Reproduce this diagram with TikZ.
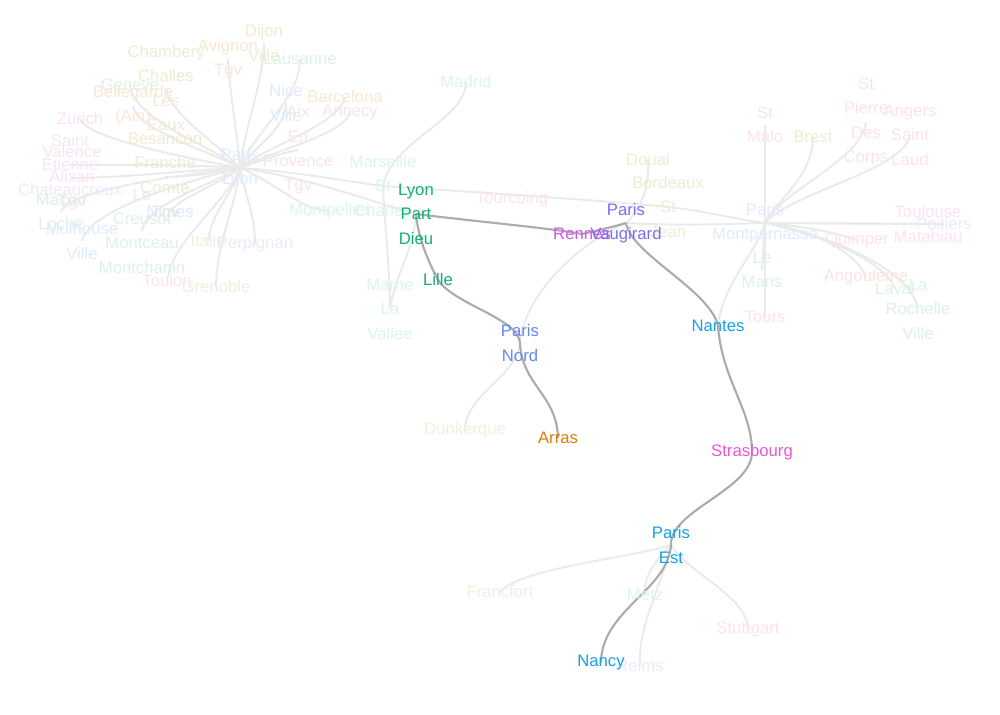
\documentclass[tikz,border=0pt]{standalone}
\usepackage{fontspec}
\setmainfont{Liberation Sans}
\usepackage{xcolor}
\usepackage{tikz}
\usetikzlibrary{backgrounds}
\definecolor{wirec}{HTML}{EAEAEA}
\definecolor{routec}{HTML}{ABABAB}
\definecolor{hgreen}{HTML}{14AD78}
\definecolor{hnord}{HTML}{6487F2}
\definecolor{hvaug}{HTML}{7A6EF2}
\definecolor{harras}{HTML}{E07B0A}
\definecolor{hrennes}{HTML}{D657E6}
\definecolor{hstras}{HTML}{F056CF}
\definecolor{hsky}{HTML}{14A2E6}
\definecolor{fbeige}{HTML}{EFEBD2}
\definecolor{forange}{HTML}{FBE6D3}
\definecolor{fgreen}{HTML}{DDF2E4}
\definecolor{fpink}{HTML}{FCE2EF}
\definecolor{fsalmon}{HTML}{FCE3E4}
\definecolor{flav}{HTML}{EFE8FB}
\definecolor{fblue}{HTML}{E1E9FC}
\definecolor{fcyan}{HTML}{DCF3F2}
\definecolor{folive}{HTML}{EDF1DE}

\begin{document}
\begin{tikzpicture}[x=0.02cm,y=-0.02cm,
  stn/.style={font=\fontsize{9.5}{13.9}\selectfont,align=center,inner sep=0pt},
  wire/.style={draw=wirec,line width=1.1pt},
  route/.style={draw=routec,line width=1.2pt}
]
  \useasboundingbox (0,0) rectangle (1000,714);
  % hubs
  \node[stn,text=fblue] (pl)   at (240,168) {Paris\\Lyon};
  \node[stn,text=fblue] (mont) at (765,223) {Paris\\Montparnasse};
  % faded stations, west
  \node[stn,text=fbeige]  (dijon) at (264,43)  {Dijon\\Ville};
  \node[stn,text=forange] (avig)  at (228,59)  {Avignon\\Tgv};
  \node[stn,text=fgreen]  (laus)  at (300,59)  {Lausanne};
  \node[stn,text=fbeige]  (cham)  at (166,88)  {Chambery\\Challes\\Les\\Eaux};
  \node[stn,text=fgreen]  (gene)  at (130,85)  {Geneve};
  \node[stn,text=forange] (bell)  at (133,105) {Bellegarde\\(Ain)};
  \node[stn,text=fpink]   (zuri)  at (80,119)  {Zurich};
  \node[stn,text=fbeige]  (besa)  at (165,177) {Besancon\\Franche\\Comte\\Tgv};
  \node[stn,text=flav]    (sete)  at (70,165)  {Saint\\Etienne\\Chateaucreux};
  \node[stn,text=fpink]   (vale)  at (72,178)  {Valence\\Alixan\\Tgv};
  \node[stn,text=fgreen]  (maco)  at (61,212)  {Macon\\Loche};
  \node[stn,text=fblue]   (mulh)  at (82,241)  {Mulhouse\\Ville};
  \node[stn,text=fgreen]  (creu)  at (142,231) {Le\\Creusot\\Montceau\\Montchanin};
  \node[stn,text=fblue]   (nime)  at (170,212) {Nimes};
  \node[stn,text=fpink]   (toul)  at (167,281) {Toulon};
  \node[stn,text=folive]  (gren)  at (216,287) {Grenoble};
  \node[stn,text=folive]  (ital)  at (208,241) {Italie};
  \node[stn,text=flav]    (perp)  at (255,244) {Perpignan};
  \node[stn,text=fblue]   (nice)  at (286,103) {Nice\\Ville};
  \node[stn,text=fsalmon] (aix)   at (298,150) {Aix\\En\\Provence\\Tgv};
  \node[stn,text=forange] (barc)  at (345,97)  {Barcelona};
  \node[stn,text=fsalmon] (anne)  at (350,112) {Annecy};
  \node[stn,text=fcyan]   (mtp)   at (330,211) {Montpellier};
  \node[stn,text=fcyan]   (msc)   at (383,186) {Marseille\\St\\Charles};
  \node[stn,text=fcyan]   (madr)  at (466,82)  {Madrid};
  \node[stn,text=fcyan]   (marn)  at (390,309) {Marne\\La\\Vallee};
  \node[stn,text=fpink]   (tour)  at (512,199) {Tourcoing};
  \node[stn,text=fbeige]  (doua)  at (648,160) {Douai};
  \node[stn,text=fbeige]  (bord)  at (668,207) {Bordeaux\\St\\Jean};
  \node[stn,text=folive]  (dunk)  at (465,430) {Dunkerque};
  \node[stn,text=folive]  (fran)  at (500,592) {Francfort};
  \node[stn,text=fcyan]   (metz)  at (645,595) {Metz};
  \node[stn,text=flav]    (reim)  at (640,666) {Reims};
  \node[stn,text=fpink]   (stut)  at (748,629) {Stuttgart};
  % faded stations, east
  \node[stn,text=fpink]   (smal)  at (765,125) {St\\Malo};
  \node[stn,text=fbeige]  (bres)  at (813,137) {Brest};
  \node[stn,text=fpink]   (spdc)  at (866,122) {St\\Pierre\\Des\\Corps};
  \node[stn,text=fpink]   (ange)  at (910,135) {Angers\\Saint\\Laud};
  \node[stn,text=fpink]   (tlse)  at (928,224) {Toulouse\\Matabiau};
  \node[stn,text=flav]    (poit)  at (944,224) {Poitiers};
  \node[stn,text=fpink]   (quim)  at (857,240) {Quimper};
  \node[stn,text=fsalmon] (ango)  at (866,277) {Angouleme};
  \node[stn,text=fgreen]  (lava)  at (895,289) {Laval};
  \node[stn,text=fgreen]  (lroc)  at (918,309) {La\\Rochelle\\Ville};
  \node[stn,text=fgreen]  (lema)  at (762,270) {Le\\Mans};
  \node[stn,text=fpink]   (tours) at (765,317) {Tours};
  % highlighted route
  \node[stn,text=hgreen]  (lpd)    at (416,214) {Lyon\\Part\\Dieu};
  \node[stn,text=hgreen]  (lille)  at (438,280) {Lille};
  \node[stn,text=hnord]   (nord)   at (520,343) {Paris\\Nord};
  \node[stn,text=harras]  (arras)  at (558,438) {Arras};
  \node[stn,text=hrennes] (rennes) at (582,234) {Rennes};
  \node[stn,text=hvaug]   (vaug)   at (626,223) {Paris\\Vaugirard};
  \node[stn,text=hsky]    (nantes) at (718,326) {Nantes};
  \node[stn,text=hstras]  (stras)  at (752,452) {Strasbourg};
  \node[stn,text=hsky]    (est)    at (671,545) {Paris\\Est};
  \node[stn,text=hsky]    (nancy)  at (601,662) {Nancy};

  \begin{scope}[on background layer]
    % Paris Lyon fan
    \draw[wire] (pl.center) .. controls (246,120) and (262,90)  .. (dijon.center);
    \draw[wire] (pl.center) .. controls (236,120) and (229,90)  .. (avig.center);
    \draw[wire] (pl.center) .. controls (255,130) and (300,100) .. (laus.center);
    \draw[wire] (pl.center) .. controls (220,145) and (170,115) .. (cham.center);
    \draw[wire] (pl.center) .. controls (215,148) and (133,120) .. (gene.center);
    \draw[wire] (pl.center) .. controls (212,152) and (135,130) .. (bell.center);
    \draw[wire] (pl.center) .. controls (200,160) and (88,140)  .. (zuri.center);
    \draw[wire] (pl.center) .. controls (190,164) and (110,165) .. (sete.center);
    \draw[wire] (pl.center) .. controls (190,170) and (120,178) .. (vale.center);
    \draw[wire] (pl.center) .. controls (220,172) and (190,177) .. (besa.center);
    \draw[wire] (pl.center) .. controls (180,175) and (68,190)  .. (maco.center);
    \draw[wire] (pl.center) .. controls (190,180) and (88,210)  .. (mulh.center);
    \draw[wire] (pl.center) .. controls (210,185) and (145,205) .. (creu.center);
    \draw[wire] (pl.center) .. controls (225,182) and (178,198) .. (nime.center);
    \draw[wire] (pl.center) .. controls (225,205) and (172,240) .. (toul.center);
    \draw[wire] (pl.center) .. controls (236,205) and (216,245) .. (gren.center);
    \draw[wire] (pl.center) .. controls (234,192) and (210,215) .. (ital.center);
    \draw[wire] (pl.center) .. controls (245,195) and (255,215) .. (perp.center);
    \draw[wire] (pl.center) .. controls (252,148) and (286,130) .. (nice.center);
    \draw[wire] (pl.center) .. controls (262,160) and (285,152) .. (aix.center);
    \draw[wire] (pl.center) .. controls (262,148) and (340,125) .. (barc.center);
    \draw[wire] (pl.center) .. controls (268,152) and (345,135) .. (anne.center);
    \draw[wire] (pl.center) .. controls (280,185) and (300,210) .. (mtp.center);
    \draw[wire] (pl.center) .. controls (300,172) and (350,182) .. (msc.center);
    \draw[wire] (pl.center) .. controls (320,180) and (380,205) .. (lpd.center);
    % around Lyon Part Dieu
    \draw[wire] (msc.center) .. controls (392,140) and (466,120) .. (madr.center);
    \draw[wire] (msc.center) .. controls (385,230) and (390,270) .. (marn.center);
    \draw[wire] (lpd.center) .. controls (414,250) and (395,275) .. (marn.center);
    \draw[wire] (msc.center) .. controls (470,192) and (600,200) .. (bord.center);
    \draw[wire] (bord.center) .. controls (700,210) and (740,220) .. (mont.center);
    \draw[wire] (vaug.center) .. controls (680,226) and (730,224) .. (mont.center);
    \draw[wire] (doua.center) .. controls (650,195) and (635,215) .. (vaug.center);
    \draw[wire] (nord.center) .. controls (525,290) and (585,240) .. (vaug.center);
    \draw[wire] (nord.center) .. controls (518,375) and (465,395) .. (dunk.center);
    % Montparnasse fan
    \draw[wire] (mont.center) -- (smal.center);
    \draw[wire] (mont.center) .. controls (775,200) and (812,180) .. (bres.center);
    \draw[wire] (mont.center) .. controls (782,190) and (862,160) .. (spdc.center);
    \draw[wire] (mont.center) .. controls (792,192) and (905,170) .. (ange.center);
    \draw[wire] (mont.center) -- (tlse.center);
    \draw[wire] (mont.center) -- (poit.center);
    \draw[wire] (mont.center) .. controls (800,226) and (835,232) .. (quim.center);
    \draw[wire] (mont.center) .. controls (810,230) and (855,250) .. (ango.center);
    \draw[wire] (mont.center) .. controls (820,235) and (885,260) .. (lava.center);
    \draw[wire] (mont.center) .. controls (830,235) and (912,270) .. (lroc.center);
    \draw[wire] (mont.center) -- (lema.center);
    \draw[wire] (mont.center) -- (tours.center);
    \draw[wire] (mont.center) .. controls (758,250) and (722,285) .. (nantes.center);
    % Paris Est fan
    \draw[wire] (est.center) .. controls (630,558) and (520,568) .. (fran.center);
    \draw[wire] (est.center) .. controls (655,560) and (642,580) .. (metz.center);
    \draw[wire] (est.center) .. controls (660,590) and (638,625) .. (reim.center);
    \draw[wire] (est.center) .. controls (690,575) and (746,595) .. (stut.center);
    % the route
    \draw[route] (arras.center) .. controls (557,395) and (522,385) .. (nord.center);
    \draw[route] (nord.center) .. controls (518,318) and (455,305) .. (lille.center);
    \draw[route] (lille.center) .. controls (425,255) and (418,235) .. (lpd.center);
    \draw[route] (lpd.center) .. controls (480,222) and (550,228) .. (rennes.center);
    \draw[route] (rennes.center) .. controls (600,230) and (620,225) .. (vaug.center);
    \draw[route] (vaug.center) .. controls (632,255) and (710,290) .. (nantes.center);
    \draw[route] (nantes.center) .. controls (722,380) and (752,410) .. (stras.center);
    \draw[route] (stras.center) .. controls (752,490) and (670,510) .. (est.center);
    \draw[route] (est.center) .. controls (668,590) and (602,610) .. (nancy.center);
  \end{scope}
\end{tikzpicture}
\end{document}
